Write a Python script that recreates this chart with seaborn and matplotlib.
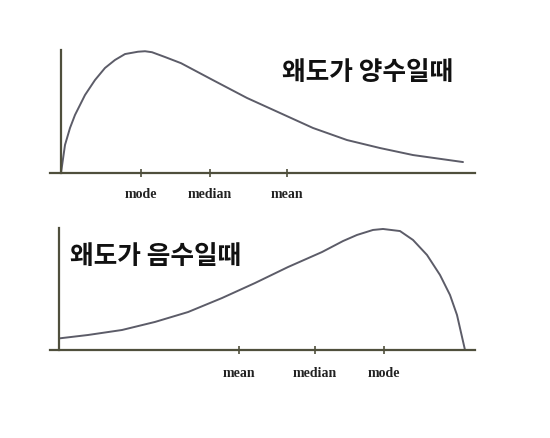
import numpy as np
import pandas as pd
import matplotlib
matplotlib.use("Agg")
import matplotlib.pyplot as plt
import seaborn as sns

# Positive skew curve
pos_x = [0, 0.1, 0.225, 0.35, 0.6, 0.85, 1.1, 1.35, 1.6, 1.925, 2.1, 2.275, 2.6, 3.0, 3.8, 4.65, 5.475, 6.3, 7.15, 7.975, 8.8, 10.05]
pos_y = [0, 0.228, 0.366, 0.472, 0.634, 0.756, 0.854, 0.919, 0.967, 0.986, 0.99, 0.982, 0.943, 0.893, 0.755, 0.61, 0.488, 0.366, 0.268, 0.203, 0.146, 0.089]
pos_ticks = [2.0, 3.725, 5.65]
pos_labels = ["mode", "median", "mean"]
pos_title = "왜도가 양수일때"

# Negative skew curve
neg_x = [0, 0.725, 1.575, 2.4, 3.225, 4.075, 4.9, 5.725, 6.575, 7.1, 7.45, 7.85, 8.1, 8.525, 8.85, 9.2, 9.525, 9.775, 9.95, 10.15]
neg_y = [0.095, 0.123, 0.164, 0.23, 0.311, 0.426, 0.549, 0.68, 0.803, 0.893, 0.943, 0.984, 0.992, 0.975, 0.902, 0.779, 0.615, 0.451, 0.287, 0]
neg_ticks = [4.5, 6.4, 8.125]
neg_labels = ["mean", "median", "mode"]
neg_title = "왜도가 음수일때"

sns.set_style("white")
plt.rcParams["font.family"] = ["Noto Sans CJK KR", "DejaVu Sans"]

W, H = 550, 438
fig = plt.figure(figsize=(W / 100, H / 100), dpi=100)

axis_col = "#4f4f3c"
curve_col = "#5c5c68"


def make_panel(x0_px, right_px, axis_py, top_py, yaxis_px, xs, ys, ticks, labels, pad):
    ax = fig.add_axes([x0_px / W, (H - axis_py) / H, (right_px - x0_px) / W, (axis_py - top_py) / H])
    df = pd.DataFrame({"x": xs, "y": ys})
    sns.lineplot(data=df, x="x", y="y", ax=ax, color=curve_col, linewidth=1.4, sort=False)
    scale = 40.0
    ax.set_xlim(-(yaxis_px - x0_px) / scale, (right_px - yaxis_px) / scale)
    ax.set_ylim(0, 1)
    for s in ["top", "right"]:
        ax.spines[s].set_visible(False)
    ax.spines["left"].set_position(("data", 0))
    for s in ["left", "bottom"]:
        ax.spines[s].set_color(axis_col)
        ax.spines[s].set_linewidth(1.6)
    ax.set_yticks([])
    ax.set_xticks(ticks)
    ax.set_xticklabels(labels, family="Liberation Serif", fontweight="bold", fontsize=10, color="#222222")
    ax.tick_params(axis="x", direction="inout", length=6, width=1.2, color=axis_col, pad=pad, bottom=True)
    ax.set_xlabel("")
    ax.set_ylabel("")
    ax.patch.set_alpha(0)
    return ax


make_panel(50, 475, 173, 50, 61, pos_x, pos_y, pos_ticks, pos_labels, 8)
make_panel(50, 475, 350, 228, 59, neg_x, neg_y, neg_ticks, neg_labels, 9.5)

fig.text(282 / W, 1 - 73 / H, pos_title, fontsize=18.5, fontweight="bold", va="center", ha="left", color="#111111")
fig.text(70 / W, 1 - 257 / H, neg_title, fontsize=18.5, fontweight="bold", va="center", ha="left", color="#111111")

fig.savefig("out.png", dpi=100)
